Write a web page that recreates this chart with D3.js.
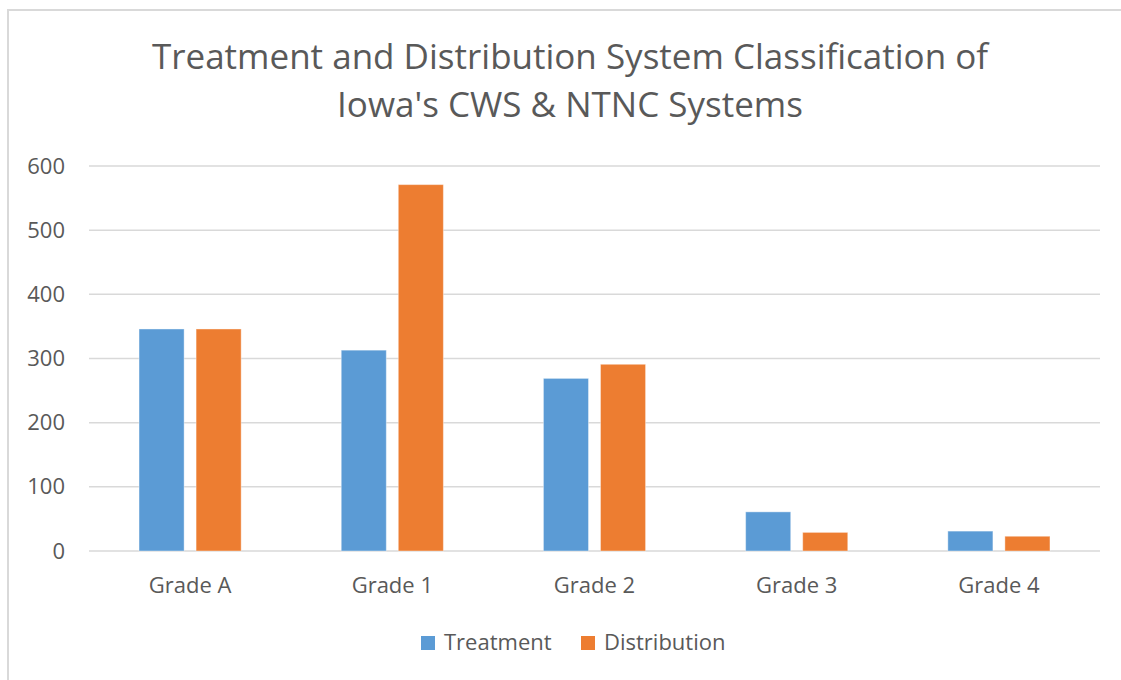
<!DOCTYPE html>
<html>
<head>
<meta charset="utf-8">
<script src="https://cdn.jsdelivr.net/npm/d3@7"></script>
<style>
  body { margin: 0; background: #fff; }
  svg { display: block; font-family: "Open Sans", sans-serif; }
</style>
</head>
<body>
<svg id="chart" width="1121" height="680"></svg>
<script>
const categories = ["Grade A", "Grade 1", "Grade 2", "Grade 3", "Grade 4"];
const series = ["Treatment", "Distribution"];
const treatment = [346, 313, 269, 61, 31];
const distribution = [346, 571, 291, 29, 23];
const yTicks = [0, 100, 200, 300, 400, 500, 600];
const titleLines = ["Treatment and Distribution System Classification of", "Iowa's CWS & NTNC Systems"];

const colors = { Treatment: "#5B9BD5", Distribution: "#ED7D31" };
const values = { Treatment: treatment, Distribution: distribution };

const svg = d3.select("#chart");
const width = +svg.attr("width");

// chart area border
svg.append("rect")
  .attr("x", 8).attr("y", 10)
  .attr("width", width + 20).attr("height", 700)
  .attr("fill", "none")
  .attr("stroke", "#d9d9d9")
  .attr("stroke-width", 2);

// title
svg.append("g").selectAll("text")
  .data(titleLines)
  .join("text")
  .attr("x", 570)
  .attr("y", (d, i) => 69 + i * 48)
  .attr("text-anchor", "middle")
  .attr("fill", "#595959")
  .style("font-size", "35px")
  .text(d => d);

const plot = { left: 89, right: 1100, top: 166, bottom: 551 };

const x0 = d3.scaleBand().domain(categories).range([plot.left, plot.right]);
const x1 = d3.scaleBand().domain(series).range([0, x0.bandwidth()])
  .paddingInner(0.21).paddingOuter(0.877);
const y = d3.scaleLinear().domain([0, 600]).range([plot.bottom, plot.top]);

// gridlines
svg.append("g").selectAll("line")
  .data(yTicks)
  .join("line")
  .attr("x1", plot.left).attr("x2", plot.right)
  .attr("y1", d => y(d)).attr("y2", d => y(d))
  .attr("stroke", "#d9d9d9")
  .attr("stroke-width", 1.5);

// y axis labels
const yAxis = svg.append("g")
  .attr("transform", `translate(${plot.left - 24},0)`)
  .call(d3.axisLeft(y).tickValues(yTicks).tickSize(0).tickPadding(0));
yAxis.select(".domain").remove();
yAxis.selectAll("text")
  .attr("fill", "#595959")
  .style("font-size", "22px")
  .style("font-family", "'Open Sans', sans-serif");

// x axis labels
const xAxis = svg.append("g")
  .attr("transform", `translate(0,${plot.bottom})`)
  .call(d3.axisBottom(x0).tickSize(0).tickPadding(26));
xAxis.select(".domain").remove();
xAxis.selectAll("text")
  .attr("fill", "#595959")
  .style("font-size", "22px")
  .style("font-family", "'Open Sans', sans-serif");

// bars
const groups = svg.append("g").selectAll("g")
  .data(categories)
  .join("g")
  .attr("transform", d => `translate(${x0(d)},0)`);

groups.selectAll("rect")
  .data((c, i) => series.map(s => ({ series: s, value: values[s][i] })))
  .join("rect")
  .attr("x", d => x1(d.series))
  .attr("y", d => y(d.value))
  .attr("width", x1.bandwidth())
  .attr("height", d => y(0) - y(d.value))
  .attr("fill", d => colors[d.series])
  .attr("stroke", "#fff")
  .attr("stroke-opacity", 0.4)
  .attr("stroke-width", 1);

// legend
const legendItems = [
  { name: "Treatment", x: 421 },
  { name: "Distribution", x: 581 }
];
const legend = svg.append("g").selectAll("g")
  .data(legendItems)
  .join("g")
  .attr("transform", d => `translate(${d.x},636)`);
legend.append("rect")
  .attr("width", 14).attr("height", 14)
  .attr("fill", d => colors[d.name]);
legend.append("text")
  .attr("x", 23).attr("y", 14)
  .attr("fill", "#595959")
  .style("font-size", "22px")
  .text(d => d.name);
</script>
</body>
</html>
